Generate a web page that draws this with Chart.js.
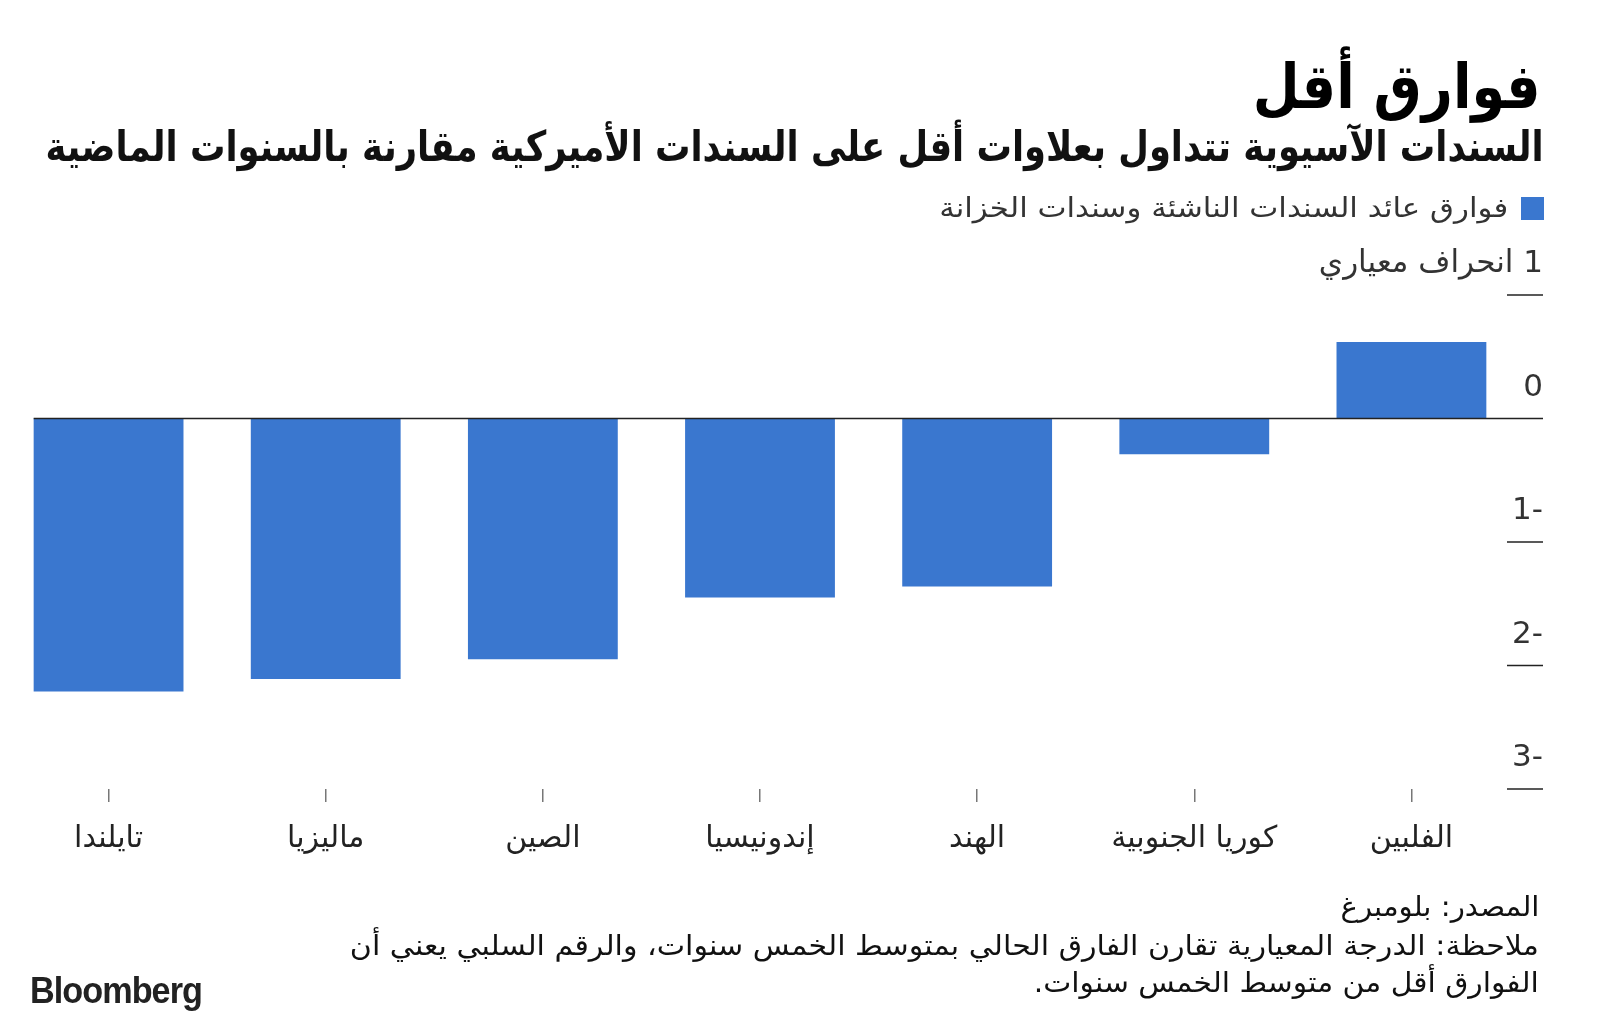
<!DOCTYPE html>
<html><head><meta charset="utf-8">
<script src="https://cdn.jsdelivr.net/npm/chart.js@4.4.1/dist/chart.umd.min.js"></script>
<style>
html,body{margin:0;padding:0;background:#fff;}
#wrap{position:relative;width:1600px;height:1023px;overflow:hidden;background:#fff;}
canvas{position:absolute;left:0;top:0;}
.t{position:absolute;white-space:nowrap;direction:rtl;transform-origin:right center;font-family:"DejaVu Sans",sans-serif;line-height:1;}
</style></head>
<body><div id="wrap">
<canvas id="c" width="1600" height="1023"></canvas>
<div class="t fit" id="title" data-w="288" style="right:59px;top:56px;font-size:62px;font-weight:bold;color:#000;">فوارق أقل</div>
<div class="t fit" id="subtitle" data-w="1498" style="right:57px;top:126px;font-size:42px;font-weight:bold;color:#111;">السندات الآسيوية تتداول بعلاوات أقل على السندات الأميركية مقارنة بالسنوات الماضية</div>
<div style="position:absolute;left:1521px;top:197px;width:23px;height:23px;background:#3a77cf;"></div>
<div class="t fit" id="legend" data-w="569" style="right:92px;top:194px;font-size:27px;color:#333;"></div>
<div class="t fit" data-w="199" style="right:61px;top:893px;font-size:28px;color:#111;">المصدر: بلومبرغ</div>
<div class="t fit" data-w="1189" style="right:61px;top:932px;font-size:28px;color:#111;">ملاحظة: الدرجة المعيارية تقارن الفارق الحالي بمتوسط الخمس سنوات، والرقم السلبي يعني أن</div>
<div class="t fit" data-w="505" style="right:61px;top:969px;font-size:28px;color:#111;">الفوارق أقل من متوسط الخمس سنوات.</div>
<div class="t fit" data-w="172" style="left:30px;right:auto;top:973px;font-size:36px;font-weight:bold;color:#222;direction:ltr;transform-origin:left center;font-family:'Liberation Sans',Arial,sans-serif;letter-spacing:-1px;">Bloomberg</div>
</div>
<script>
const categories = ['تايلندا','ماليزيا','الصين','إندونيسيا','الهند','كوريا الجنوبية','الفلبين'];
const spreadZ = [-2.21, -2.11, -1.95, -1.45, -1.36, -0.29, 0.62];
const yTickValues = [1, 0, -1, -2, -3];
const yTickLabels = ['1 انحراف معياري', '0', '-1', '-2', '-3'];
const seriesName = 'فوارق عائد السندات الناشئة وسندات الخزانة';
const barColor = '#3a77cf';

document.getElementById('legend').textContent = seriesName;
document.querySelectorAll('.fit').forEach(el => {
  const w = el.getBoundingClientRect().width;
  const target = +el.dataset.w;
  el.style.transform = 'scaleX(' + (target / w) + ')';
});

const rightAxis = {
  id: 'rightAxis',
  afterDatasetsDraw(chart) {
    const {ctx, chartArea, scales: {y}} = chart;
    const meta = chart.getDatasetMeta(0);
    const first = meta.data[0];
    const left = first.x - first.width / 2;
    const axisRight = chartArea.right + 23;
    ctx.save();
    ctx.strokeStyle = '#222';
    ctx.lineWidth = 1.6;
    const y0 = y.getPixelForValue(0);
    ctx.beginPath(); ctx.moveTo(left, y0); ctx.lineTo(axisRight, y0); ctx.stroke();
    ctx.direction = 'rtl';
    ctx.textAlign = 'right';
    ctx.textBaseline = 'middle';
    ctx.fillStyle = '#333';
    yTickValues.forEach((v, i) => {
      const py = y.getPixelForValue(v);
      if (v !== 0) {
        ctx.beginPath(); ctx.moveTo(axisRight - 36, py); ctx.lineTo(axisRight, py); ctx.stroke();
      }
      ctx.font = '31px "DejaVu Sans"';
      ctx.fillText(yTickLabels[i], axisRight, py - 31);
    });
    ctx.restore();
  }
};

new Chart(document.getElementById('c'), {
  type: 'bar',
  data: {
    labels: categories,
    datasets: [{
      label: seriesName,
      data: spreadZ,
      backgroundColor: barColor,
      borderWidth: 0,
      categoryPercentage: 0.69,
      barPercentage: 1
    }]
  },
  options: {
    responsive: false,
    animation: false,
    devicePixelRatio: 1,
    layout: {padding: {left: 0, right: 80, top: 295, bottom: 134}},
    plugins: {legend: {display: false}, tooltip: {enabled: false}},
    scales: {
      x: {
        grid: {display: true, drawOnChartArea: false, drawTicks: true, tickLength: 13, color: '#777', lineWidth: 1.5, offset: false},
        border: {display: false},
        ticks: {font: {family: 'DejaVu Sans', size: 30}, color: '#222', padding: 19, maxRotation: 0},
        afterFit(s) { s.height = 100; }
      },
      y: {display: false, min: -3, max: 1}
    }
  },
  plugins: [rightAxis]
});
</script>
</body></html>
